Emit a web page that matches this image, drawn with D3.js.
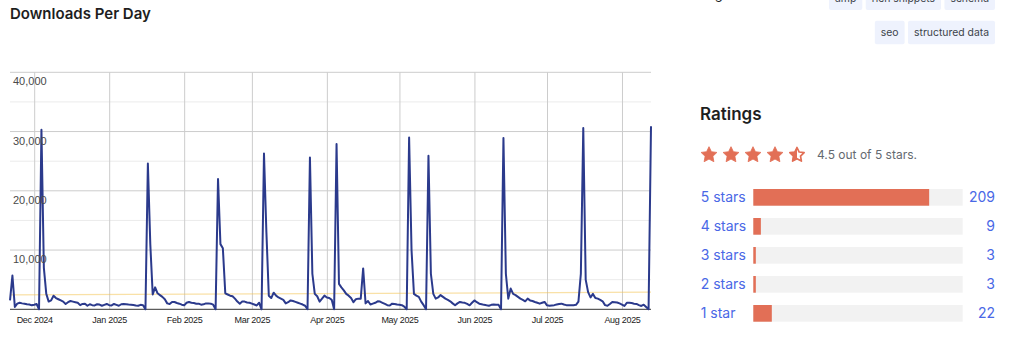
<!DOCTYPE html>
<html>
<head>
<meta charset="utf-8">
<script src="https://cdn.jsdelivr.net/npm/d3@7"></script>
<style>
    html, body { margin: 0; padding: 0; background: #fff; }
    svg { display: block; }
</style>
</head>
<body>
<div id="page"></div>
<script>
// -- DATA ----------------------------

const startDate = "2024-11-21";

// one value per day, from Nov 21 2024 to Aug 13 2025
const downloads = [
    1500, 5700, 400, 950, 1100, 1000, 950, 840, 800, 670,
    780, 900, 0, 30300, 7000, 2600, 1300, 1500, 2300, 1900,
    1700, 1500, 1300, 900, 1200, 1400, 1300, 1200, 1100, 700,
    900, 950, 600, 850, 700, 650, 850, 800, 600, 750,
    900, 700, 650, 900, 750, 600, 850, 900, 850, 800,
    780, 720, 650, 600, 750, 700, 0, 24600, 11000, 2500,
    3700, 2700, 2400, 2100, 1700, 1000, 900, 1240, 1240, 1070,
    950, 780, 670, 1100, 1240, 1100, 1070, 950, 950, 780,
    840, 1000, 1000, 950, 780, 0, 22000, 11000, 10300, 2700,
    2500, 2300, 2200, 1800, 1300, 950, 1300, 1300, 1150, 1100,
    950, 800, 650, 1100, 0, 26300, 13000, 2300, 1900, 2800,
    2300, 2000, 1800, 1600, 1000, 1200, 1500, 1400, 1250, 1100,
    950, 800, 600, 0, 25600, 6000, 2600, 2200, 1300, 1800,
    2300, 2000, 1900, 1600, 0, 27900, 4300, 3700, 3200, 2600,
    2300, 1900, 1200, 1700, 1800, 1800, 6900, 1000, 1400, 800,
    950, 1100, 1350, 1300, 1100, 900, 700, 650, 950, 900,
    800, 780, 700, 450, 0, 29000, 10000, 2600, 2300, 2100,
    1300, 700, 0, 25900, 6000, 2600, 1800, 2000, 2400, 2100,
    1800, 1600, 1350, 1000, 670, 1000, 1240, 1150, 1100, 900,
    670, 1100, 1500, 1200, 950, 850, 750, 670, 600, 750,
    800, 780, 750, 0, 28900, 6000, 1800, 3500, 2600, 2400,
    2100, 1800, 1600, 1350, 1800, 1500, 1400, 1240, 1100, 950,
    1100, 1240, 670, 600, 650, 700, 800, 900, 950, 800,
    700, 700, 700, 700, 750, 1300, 6000, 30600, 5000, 2900,
    2000, 2600, 1900, 1800, 1600, 1350, 700, 600, 900, 1240,
    1200, 1150, 1000, 800, 560, 1100, 1100, 1050, 950, 900,
    700, 560, 780, 400, 0, 30900
];

const yMajorTicks = [10000, 20000, 30000, 40000];
const yMinorTicks = [5000, 15000, 25000, 35000];
const monthTicks = ["2024-12-01", "2025-01-01", "2025-02-01", "2025-03-01", "2025-04-01",
                    "2025-05-01", "2025-06-01", "2025-07-01", "2025-08-01"];

const tagRows = [
    ["amp", "rich snippets", "schema"],
    ["seo", "structured data"]
];

const ratingLabels = ["5 stars", "4 stars", "3 stars", "2 stars", "1 star"];
const ratingCounts = [209, 9, 3, 3, 22];
const ratingAverage = 4.5;

// -- SETUP ----------------------------

let width = 1024,
    height = 338;

var plot = {
    left: 10,
    right: 651,
    top: 72.3,
    bottom: 309.3
};

let lineColor = "#2b3a8c";
let starColor = "#e26f56";
let linkColor = "#4a68e6";

var svg = d3.select("#page")
    .append("svg")
    .attr("width", width)
    .attr("height", height);

var parseDate = d3.timeParse("%Y-%m-%d");
var first = parseDate(startDate);

var data = downloads.map(function(v, i) {
    return { date: d3.timeDay.offset(first, i), value: v };
});

var x = d3.scaleTime()
    .domain(d3.extent(data, d => d.date))
    .range([plot.left, plot.right]);

var y = d3.scaleLinear()
    .domain([0, 40000])
    .range([plot.bottom, plot.top]);

// -- CHART ----------------------------

svg.append("text")
    .attr("x", 10)
    .attr("y", 19)
    .style("font-family", "Inter, sans-serif")
    .style("font-size", "15px")
    .style("font-weight", 600)
    .style("fill", "#1e1e1e")
    .text("Downloads Per Day");

const chart = svg.append("g");

// minor gridlines
chart.selectAll("line.minor")
    .data(yMinorTicks)
    .enter()
    .append("line")
    .attr("class", "minor")
    .attr("x1", plot.left)
    .attr("x2", plot.right)
    .attr("y1", d => y(d))
    .attr("y2", d => y(d))
    .style("stroke", "#ebebeb")
    .style("stroke-width", 1);

// major gridlines
chart.selectAll("line.major")
    .data(yMajorTicks)
    .enter()
    .append("line")
    .attr("class", "major")
    .attr("x1", plot.left)
    .attr("x2", plot.right)
    .attr("y1", d => y(d))
    .attr("y2", d => y(d))
    .style("stroke", "#cccccc")
    .style("stroke-width", 1);

// month gridlines + labels
var xAxis = d3.axisBottom(x)
    .tickValues(monthTicks.map(parseDate))
    .tickFormat(d3.timeFormat("%b %Y"))
    .tickSize(-(plot.bottom - plot.top))
    .tickPadding(7);

var xg = chart.append("g")
    .attr("transform", "translate(0," + plot.bottom + ")")
    .call(xAxis);

xg.select(".domain").remove();
xg.selectAll(".tick line")
    .style("stroke", "#cccccc");
xg.selectAll(".tick text")
    .style("font-family", "Arial, 'Liberation Sans', sans-serif")
    .style("font-size", "9px")
    .style("letter-spacing", "-0.3px")
    .style("fill", "#222");

// trendline (least squares over the daily values)
var n = data.length;
var meanX = d3.mean(data, (d, i) => i);
var meanY = d3.mean(data, d => d.value);
var sxy = d3.sum(data, (d, i) => (i - meanX) * (d.value - meanY));
var sxx = d3.sum(data, (d, i) => (i - meanX) * (i - meanX));
var slope = sxy / sxx;
var intercept = meanY - slope * meanX;

chart.append("line")
    .attr("x1", x(data[0].date))
    .attr("x2", x(data[n - 1].date))
    .attr("y1", y(intercept))
    .attr("y2", y(intercept + slope * (n - 1)))
    .style("stroke", "#f5c451")
    .style("stroke-width", 1.2)
    .style("opacity", 0.5);

// baseline
chart.append("line")
    .attr("x1", plot.left)
    .attr("x2", plot.right)
    .attr("y1", y(0))
    .attr("y2", y(0))
    .style("stroke", "#333")
    .style("stroke-width", 1);

var line = d3.line()
    .x(d => x(d.date))
    .y(d => y(d.value));

chart.append("path")
    .datum(data)
    .attr("d", line)
    .style("fill", "none")
    .style("stroke", lineColor)
    .style("stroke-width", 2)
    .style("stroke-linejoin", "round");

// y labels sit inside the plot, just under their gridline
chart.selectAll("text.ylabel")
    .data(yMajorTicks)
    .enter()
    .append("text")
    .attr("class", "ylabel")
    .attr("x", 13)
    .attr("y", d => y(d) + 13)
    .style("font-family", "Arial, 'Liberation Sans', sans-serif")
    .style("font-size", "11px")
    .style("fill", "#4a4a4a")
    .text(d3.format(","));

// -- TAGS ----------------------------

svg.append("text")
    .attr("x", 700)
    .attr("y", -1)
    .style("font-family", "Inter, sans-serif")
    .style("font-size", "13px")
    .style("fill", "#1e1e1e")
    .text("Tags");

var tagTop = [-13.6, 20.7];
tagRows.forEach(function(row, r) {
    var right = 995;
    row.slice().reverse().forEach(function(tag) {
        var g = svg.append("g");
        var rect = g.append("rect")
            .attr("y", tagTop[r])
            .attr("height", 23.6)
            .attr("rx", 2)
            .style("fill", "#eef2fd");
        var t = g.append("text")
            .attr("y", tagTop[r] + 11.8)
            .attr("dy", "0.35em")
            .style("font-family", "Inter, sans-serif")
            .style("font-size", "10.4px")
            .style("fill", "#3c434a")
            .text(tag);
        var w = t.node().getComputedTextLength() + 12;
        rect.attr("x", right - w).attr("width", w);
        t.attr("x", right - w + 6);
        right = right - w - 3.4;
    });
});

// -- RATINGS ----------------------------

svg.append("text")
    .attr("x", 700)
    .attr("y", 120)
    .style("font-family", "Inter, sans-serif")
    .style("font-size", "17px")
    .style("font-weight", 600)
    .style("fill", "#1e1e1e")
    .text("Ratings");

// a plump five point star, point up
function starPath(outer, inner) {
    var pts = d3.range(10).map(function(k) {
        return [k * Math.PI / 5, k % 2 == 0 ? outer : inner];
    });
    return d3.lineRadial().curve(d3.curveLinearClosed)(pts);
}

var starD = starPath(8.3, 4.1);
var starOutline = starPath(7.5, 3.7);
var starFill = d3.range(5).map(i => Math.max(0, Math.min(1, ratingAverage - i)));

var defs = svg.append("defs");
defs.append("clipPath")
    .attr("id", "halfstar")
    .append("rect")
    .attr("x", -10)
    .attr("y", -10)
    .attr("width", 10)
    .attr("height", 20);

var stars = svg.selectAll("g.star")
    .data(starFill)
    .enter()
    .append("g")
    .attr("class", "star")
    .attr("transform", (d, i) => "translate(" + (709 + i * 22) + ",155)");

stars.filter(d => d >= 1)
    .append("path")
    .attr("d", starD)
    .style("fill", starColor)
    .style("stroke", starColor)
    .style("stroke-width", 0.8)
    .style("stroke-linejoin", "round");

stars.filter(d => d < 1)
    .append("path")
    .attr("d", starOutline)
    .style("fill", "none")
    .style("stroke", starColor)
    .style("stroke-width", 1.7)
    .style("stroke-linejoin", "round");

stars.filter(d => d > 0 && d < 1)
    .append("path")
    .attr("d", starD)
    .attr("clip-path", "url(#halfstar)")
    .style("fill", starColor);

svg.append("text")
    .attr("x", 817)
    .attr("y", 158.5)
    .style("font-family", "Inter, sans-serif")
    .style("font-size", "12px")
    .style("fill", "#646970")
    .text(ratingAverage + " out of 5 stars.");

var total = d3.sum(ratingCounts);
var bar = d3.scaleLinear()
    .domain([0, total])
    .range([0, 207]);

var rows = svg.selectAll("g.rating")
    .data(ratingCounts)
    .enter()
    .append("g")
    .attr("class", "rating")
    .attr("transform", (d, i) => "translate(0," + (197.3 + i * 29) + ")");

rows.append("text")
    .attr("x", 700.7)
    .attr("dy", "0.36em")
    .style("font-family", "Inter, sans-serif")
    .style("font-size", "14px")
    .style("fill", linkColor)
    .text((d, i) => ratingLabels[i]);

rows.append("rect")
    .attr("x", 753.3)
    .attr("y", -8.3)
    .attr("width", 209.4)
    .attr("height", 16.7)
    .style("fill", "#f2f2f2");

rows.append("rect")
    .attr("x", 753.3)
    .attr("y", -8.3)
    .attr("width", d => bar(d))
    .attr("height", 16.7)
    .style("fill", starColor);

rows.append("text")
    .attr("x", 995)
    .attr("dy", "0.36em")
    .attr("text-anchor", "end")
    .style("font-family", "Inter, sans-serif")
    .style("font-size", "14px")
    .style("fill", linkColor)
    .text(d => d);
</script>
</body>
</html>
